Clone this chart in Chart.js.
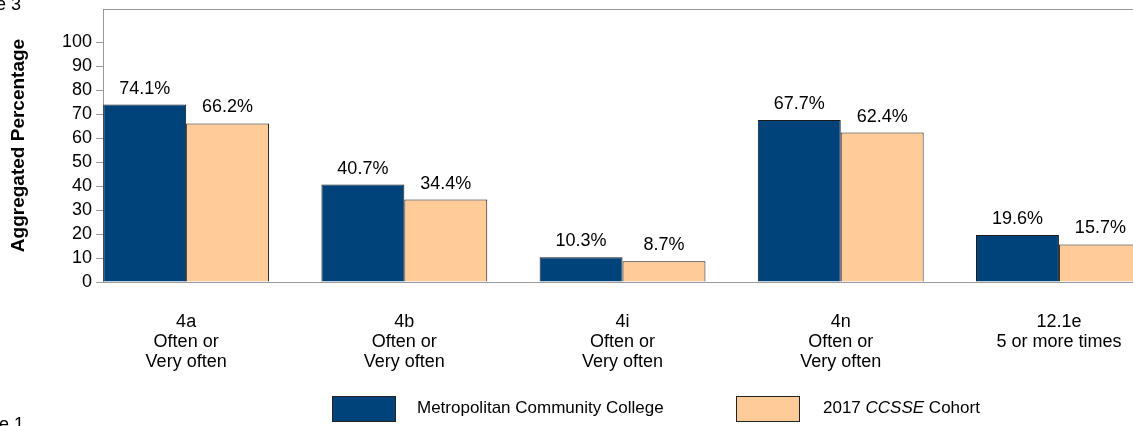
<!DOCTYPE html>
<html>
<head>
<meta charset="utf-8">
<script src="https://cdn.jsdelivr.net/npm/chart.js@4"></script>
<style>
  html, body { margin: 0; padding: 0; background: #fff; overflow: hidden; }
  body { width: 1133px; height: 426px; position: relative; font-family: "Liberation Sans", Arial, sans-serif; color: #000; }
  #wrap { position: absolute; left: 0; top: 0; width: 1194px; height: 426px; }
  .edge { position: absolute; font-size: 18px; line-height: 18px; white-space: nowrap; }
  .leg-box { position: absolute; width: 62px; height: 24px; border: 1px solid #222; }
  .leg-text { position: absolute; font-size: 17px; line-height: 26px; white-space: nowrap; }
</style>
</head>
<body>
<div id="wrap"><canvas id="chart"></canvas></div>
<div class="edge" style="left:-4px; top:-5px;">e 3</div>
<div class="edge" style="left:-1px; top:415px;">e 1</div>
<div id="legend"></div>

<script>
// Chart data
const categories = [
  ['4a', 'Often or', 'Very often'],
  ['4b', 'Often or', 'Very often'],
  ['4i', 'Often or', 'Very often'],
  ['4n', 'Often or', 'Very often'],
  ['12.1e', '5 or more times']
];
const collegeValues = [74.1, 40.7, 10.3, 67.7, 19.6];
const cohortValues = [66.2, 34.4, 8.7, 62.4, 15.7];
const seriesNames = ['Metropolitan Community College', '2017 CCSSE Cohort'];
const seriesColors = ['#00427A', '#FFCC99'];
const yTicks = [0, 10, 20, 30, 40, 50, 60, 70, 80, 90, 100];

const fontFamily = '"Liberation Sans", Arial, sans-serif';
const axisGray = '#9a9a9a';

// x is a linear index scale so the first group can sit right against the y axis
const xMin = -0.381;
const xMax = 4.619;

// Draw the value above each bar
const valueLabels = {
  id: 'valueLabels',
  afterDatasetsDraw(chart) {
    const ctx = chart.ctx;
    ctx.save();
    ctx.font = '18px ' + fontFamily;
    ctx.fillStyle = '#000';
    ctx.textAlign = 'center';
    ctx.textBaseline = 'alphabetic';
    chart.data.datasets.forEach((ds, i) => {
      chart.getDatasetMeta(i).data.forEach((bar, j) => {
        ctx.fillText(ds.data[j].y.toFixed(1) + '%', bar.x, bar.y - 11);
      });
    });
    ctx.restore();
  }
};

const ctx = document.getElementById('chart').getContext('2d');
const chart = new Chart(ctx, {
  type: 'bar',
  data: {
    datasets: [
      {
        label: seriesNames[0],
        data: collegeValues.map((v, i) => ({ x: i, y: v })),
        backgroundColor: seriesColors[0],
        borderColor: '#1a1a1a',
        borderWidth: 1
      },
      {
        label: seriesNames[1],
        data: cohortValues.map((v, i) => ({ x: i, y: v })),
        backgroundColor: seriesColors[1],
        borderColor: '#1a1a1a',
        borderWidth: 1
      }
    ]
  },
  options: {
    responsive: true,
    maintainAspectRatio: false,
    animation: false,
    categoryPercentage: 0.76,
    barPercentage: 1,
    layout: { padding: { top: 9, left: 0, right: 0, bottom: 0 } },
    plugins: {
      legend: { display: false },
      tooltip: { enabled: false }
    },
    scales: {
      x: {
        type: 'linear',
        position: 'bottom',
        min: xMin,
        max: xMax,
        offset: false,
        grid: { display: false },
        border: { display: true, color: axisGray, width: 1 },
        afterBuildTicks: (scale) => {
          scale.ticks = categories.map((c, i) => ({ value: i }));
        },
        afterFit: (scale) => {
          scale.height = 144;
          scale.paddingLeft = 0;
          scale.paddingRight = 0;
        },
        ticks: {
          autoSkip: false,
          maxRotation: 0,
          padding: 22,
          color: '#000',
          font: { family: fontFamily, size: 18, lineHeight: 1.12 },
          callback: (value) => categories[value]
        }
      },
      xTop: {
        type: 'linear',
        position: 'top',
        min: xMin,
        max: xMax,
        grid: { display: false },
        ticks: { display: false },
        border: { display: true, color: axisGray, width: 1 },
        afterFit: (scale) => { scale.height = 0; }
      },
      y: {
        min: 0,
        max: 114,
        afterBuildTicks: (scale) => {
          scale.ticks = yTicks.map(v => ({ value: v }));
        },
        afterFit: (scale) => {
          scale.width = 103;
          scale.paddingTop = 0;
          scale.paddingBottom = 0;
        },
        grid: {
          display: true,
          drawOnChartArea: false,
          drawTicks: true,
          tickLength: 7,
          color: axisGray
        },
        border: { display: true, color: axisGray, width: 1 },
        ticks: {
          padding: 4,
          color: '#000',
          font: { family: fontFamily, size: 18 }
        },
        title: {
          display: true,
          text: 'Aggregated Percentage',
          color: '#000',
          padding: { top: 7, bottom: 0 },
          font: { family: fontFamily, size: 19, weight: 'bold' }
        }
      }
    }
  },
  plugins: [valueLabels]
});

// HTML legend (needed for the italic CCSSE)
const legendSpots = [
  { box: 332, text: 417 },
  { box: 736, text: 823 }
];
const legend = document.getElementById('legend');
chart.data.datasets.forEach((ds, i) => {
  const box = document.createElement('div');
  box.className = 'leg-box';
  box.style.left = legendSpots[i].box + 'px';
  box.style.top = '396px';
  box.style.background = ds.backgroundColor;
  legend.appendChild(box);

  const label = document.createElement('div');
  label.className = 'leg-text';
  label.style.left = legendSpots[i].text + 'px';
  label.style.top = '395px';
  label.innerHTML = ds.label.replace('CCSSE', '<i>CCSSE</i>');
  legend.appendChild(label);
});
</script>
</body>
</html>
